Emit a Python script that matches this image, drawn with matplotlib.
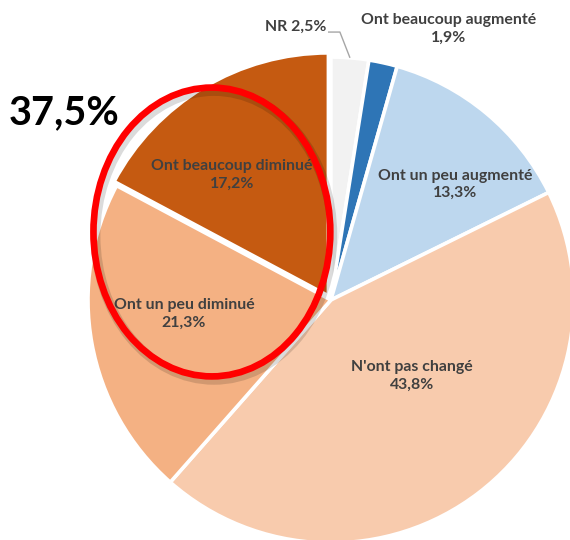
import matplotlib
matplotlib.use("Agg")
import matplotlib.pyplot as plt
from matplotlib.patches import Ellipse
import matplotlib.patheffects as pe
import numpy as np

# ---- data ----
categories = ["NR", "Ont beaucoup augmenté", "Ont un peu augmenté",
              "N'ont pas changé", "Ont un peu diminué", "Ont beaucoup diminué"]
values = [2.5, 1.9, 13.3, 43.8, 21.3, 17.2]
highlight_text = "37,5%"

# ---- style ----
colors = ["#F2F2F2", "#2E75B6", "#BDD7EE", "#F8CBAD", "#F4B183", "#C55A11"]
explode = [0, 0, 0, 0, 0, 0.02]
# label anchor positions (pie radius = 1)
label_pos = [(-0.02, 1.123), (0.486, 1.115), (0.510, 0.475),
             (0.333, -0.313), (-0.605, -0.058), (-0.407, 0.514)]
TXT = "#404040"
FONT = "Lato"
FS = 11.4

fig = plt.figure(figsize=(5.7, 5.4), dpi=100)
ax = fig.add_axes([0, 0, 1, 1])

wedges, _ = ax.pie(values, colors=colors, startangle=90, counterclock=False,
                   explode=explode, radius=1,
                   wedgeprops=dict(edgecolor="white", linewidth=2.6))

ax.set_xlim(-1.362, 0.984)
ax.set_ylim(-0.988, 1.235)
ax.set_aspect("equal")
ax.axis("off")

def fmt(v):
    return f"{v:.1f}".replace(".", ",") + "%"

for i, (cat, v) in enumerate(zip(categories, values)):
    x, y = label_pos[i]
    if i == 0:
        ax.text(x, y, f"{cat} {fmt(v)}", ha="right", va="center",
                fontsize=FS, fontweight="bold", color=TXT, family=FONT)
    else:
        ax.text(x, y, f"{cat}\n{fmt(v)}", ha="center", va="center",
                fontsize=FS, fontweight="bold", color=TXT, family=FONT,
                linespacing=1.3)

# leader line for NR, ending on the wedge's outer arc
w0 = wedges[0]
mid = np.deg2rad((w0.theta1 + w0.theta2) / 2)
ex, ey = np.cos(mid), np.sin(mid)
ax.plot([-0.012, 0.037, ex], [1.103, 1.103, ey], color="#A6A6A6", lw=1,
        solid_capstyle="butt")

# red highlight ellipse
ell = Ellipse((-0.490, 0.280), 0.975, 1.189, fill=False, edgecolor="#FF0000",
              linewidth=4.8, zorder=5)
ell.set_path_effects([pe.SimpleLineShadow(offset=(1.5, -2.5), shadow_color="#000000",
                                          alpha=0.14, linewidth=7),
                      pe.Normal()])
ax.add_patch(ell)

ax.text(-1.099, 0.772, highlight_text, ha="center", va="center",
        fontsize=28.5, fontweight="bold", color="black", family=FONT)

fig.savefig("out.png", dpi=100)
